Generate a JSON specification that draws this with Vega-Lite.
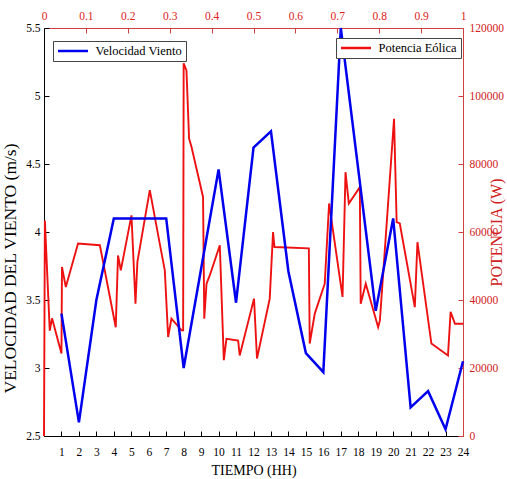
{
  "$schema": "https://vega.github.io/schema/vega-lite/v6.json",
  "width": 419,
  "height": 408,
  "autosize": "none",
  "padding": {"left": 44, "top": 28, "right": 44, "bottom": 43},
  "background": "white",
  "config": {
    "font": "Liberation Serif",
    "view": {"stroke": null},
    "axis": {"labelFont": "Liberation Serif", "titleFont": "Liberation Serif", "grid": false, "titleFontWeight": "normal", "labelFontSize": 11.5, "titleFontSize": 14, "tickSize": -5, "labelFlush": false, "labelOverlap": false}
  },
  "datasets": {
    "speed": [
      {"h": 1, "v": 3.4}, {"h": 2, "v": 2.6}, {"h": 3, "v": 3.5}, {"h": 4, "v": 4.1},
      {"h": 5, "v": 4.1}, {"h": 6, "v": 4.1}, {"h": 7, "v": 4.1}, {"h": 8, "v": 3.0},
      {"h": 9, "v": 3.73}, {"h": 10, "v": 4.46}, {"h": 11, "v": 3.48}, {"h": 12, "v": 4.62},
      {"h": 13, "v": 4.74}, {"h": 14, "v": 3.71}, {"h": 15, "v": 3.11}, {"h": 16, "v": 2.97},
      {"h": 17, "v": 5.5}, {"h": 18, "v": 4.46}, {"h": 19, "v": 3.42}, {"h": 20, "v": 4.1},
      {"h": 21, "v": 2.71}, {"h": 22, "v": 2.83}, {"h": 23, "v": 2.55}, {"h": 24, "v": 3.05}
    ],
    "power": [
      {"h": 0, "p": 0}, {"h": 0.05, "p": 63400}, {"h": 0.33, "p": 31000}, {"h": 0.46, "p": 34600},
      {"h": 1.0, "p": 24300}, {"h": 1.03, "p": 49700}, {"h": 1.25, "p": 43800}, {"h": 1.95, "p": 56600},
      {"h": 3.2, "p": 56100}, {"h": 4.11, "p": 32000}, {"h": 4.24, "p": 53100}, {"h": 4.4, "p": 48700},
      {"h": 5.01, "p": 64900}, {"h": 5.24, "p": 38900}, {"h": 5.35, "p": 51200}, {"h": 6.06, "p": 72300},
      {"h": 6.63, "p": 56600}, {"h": 6.92, "p": 48700}, {"h": 7.11, "p": 29100}, {"h": 7.3, "p": 34500},
      {"h": 7.88, "p": 31100}, {"h": 7.97, "p": 31100}, {"h": 8.0, "p": 109600}, {"h": 8.16, "p": 107500},
      {"h": 8.31, "p": 87500}, {"h": 8.45, "p": 85000}, {"h": 9.11, "p": 70300}, {"h": 9.18, "p": 34500},
      {"h": 9.31, "p": 44800}, {"h": 9.5, "p": 47300}, {"h": 10.07, "p": 56100}, {"h": 10.3, "p": 22300},
      {"h": 10.45, "p": 28600}, {"h": 11.12, "p": 28100}, {"h": 11.21, "p": 23700}, {"h": 12.03, "p": 40400},
      {"h": 12.2, "p": 22800}, {"h": 12.93, "p": 40400}, {"h": 13.12, "p": 60000}, {"h": 13.2, "p": 55600},
      {"h": 15.17, "p": 55200}, {"h": 15.22, "p": 27200}, {"h": 15.51, "p": 36000}, {"h": 16.08, "p": 44800},
      {"h": 16.33, "p": 68400}, {"h": 17.1, "p": 40900}, {"h": 17.27, "p": 77600}, {"h": 17.46, "p": 68400},
      {"h": 18.09, "p": 73200}, {"h": 18.14, "p": 38900}, {"h": 18.43, "p": 44800}, {"h": 19.14, "p": 32000},
      {"h": 19.24, "p": 34000}, {"h": 20.05, "p": 93300}, {"h": 20.2, "p": 62900}, {"h": 20.38, "p": 62500},
      {"h": 21.24, "p": 37900}, {"h": 21.39, "p": 57000}, {"h": 22.19, "p": 27200}, {"h": 23.14, "p": 23700},
      {"h": 23.29, "p": 36500}, {"h": 23.54, "p": 33000}, {"h": 24.0, "p": 33000}
    ],
    "top": [{"t": 0}, {"t": 1}]
  },
  "layer": [
    {
      "data": {"name": "top"},
      "mark": {"type": "point", "opacity": 0},
      "encoding": {
        "x": {"field": "t", "type": "quantitative", "scale": {"domain": [0, 1], "nice": false, "zero": false},
          "axis": {"orient": "top", "title": null, "values": [0, 0.1, 0.2, 0.3, 0.4, 0.5, 0.6, 0.7, 0.8, 0.9, 1], "format": "~g",
            "domainColor": "#d04040", "tickColor": "#d04040", "labelColor": "#e02020", "labelPadding": 12}}
      }
    },
    {
      "data": {"name": "power"},
      "mark": {"type": "line", "strokeWidth": 1.9, "interpolate": "linear"},
      "encoding": {
        "x": {"field": "h", "type": "quantitative", "scale": {"domain": [0, 24], "nice": false}, "axis": null},
        "y": {"field": "p", "type": "quantitative", "scale": {"domain": [0, 120000], "nice": false},
          "axis": {"orient": "right", "title": "POTENCIA (W)", "titleAngle": -90, "values": [0, 20000, 40000, 60000, 80000, 100000, 120000], "format": "d",
            "domainColor": "#d04040", "tickColor": "#d04040", "labelColor": "#d02020", "titleColor": "#d02020", "labelPadding": 11, "titlePadding": 1, "titleFontSize": 16}},
        "color": {"datum": "Potencia Eólica", "scale": {"range": ["#ee1111"]},
          "legend": {"orient": "none", "legendX": 292, "legendY": 10, "title": null, "symbolType": "M-1,0H5", "symbolStrokeWidth": 2.5, "symbolSize": 100, "symbolFillColor": "transparent", "labelOffset": 26,
            "labelFont": "Liberation Serif", "labelFontSize": 12.5, "labelColor": "black", "strokeColor": "#444", "fillColor": "white", "padding": 3.5}}
      }
    },
    {
      "data": {"name": "speed"},
      "mark": {"type": "line", "strokeWidth": 2.5, "interpolate": "linear"},
      "encoding": {
        "x": {"field": "h", "type": "quantitative", "scale": {"domain": [0, 24], "nice": false},
          "axis": {"orient": "bottom", "title": "TIEMPO (HH)", "values": [1, 2, 3, 4, 5, 6, 7, 8, 9, 10, 11, 12, 13, 14, 15, 16, 17, 18, 19, 20, 21, 22, 23, 24],
            "domainColor": "black", "tickColor": "black", "labelColor": "black", "titleColor": "black", "labelPadding": 15, "titlePadding": 6}},
        "y": {"field": "v", "type": "quantitative", "scale": {"domain": [2.5, 5.5], "nice": false, "zero": false},
          "axis": {"orient": "left", "title": "VELOCIDAD DEL VIENTO (m/s)", "titleY": 240, "values": [2.5, 3, 3.5, 4, 4.5, 5, 5.5], "format": "~g",
            "domainColor": "black", "tickColor": "black", "labelColor": "black", "titleColor": "black", "labelPadding": 9, "titlePadding": 6, "titleFontSize": 17.5}},
        "color": {"datum": "Velocidad Viento", "scale": {"range": ["#0000ee"]},
          "legend": {"orient": "none", "legendX": 9, "legendY": 13, "title": null, "symbolType": "M-1,0H5", "symbolStrokeWidth": 2.5, "symbolSize": 100, "symbolFillColor": "transparent", "labelOffset": 26,
            "labelFont": "Liberation Serif", "labelFontSize": 12.5, "labelColor": "black", "strokeColor": "#444", "fillColor": "white", "padding": 3.5}}
      }
    }
  ],
  "resolve": {"scale": {"x": "independent", "y": "independent", "color": "independent"}, "legend": {"color": "independent"}}
}
